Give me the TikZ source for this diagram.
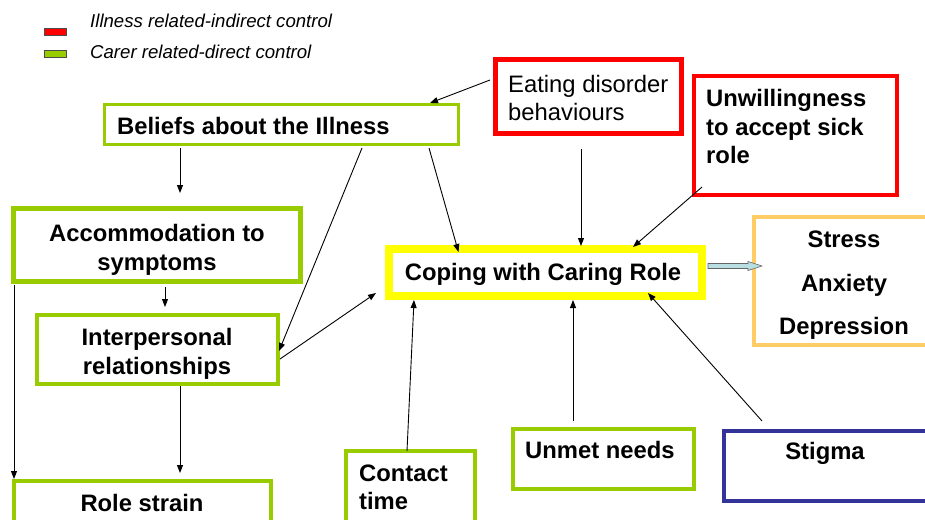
\documentclass[tikz,border=0pt]{standalone}
\usepackage{fontspec}
\setmainfont{Liberation Sans}
\usetikzlibrary{arrows.meta}
\definecolor{illred}{HTML}{FF0000}
\definecolor{carergreen}{HTML}{99CC00}
\definecolor{copeyellow}{HTML}{FFFF00}
\definecolor{outcomeorange}{HTML}{FFCC66}
\definecolor{stigmablue}{HTML}{333399}
\definecolor{arrowfill}{HTML}{B8DEE2}
\begin{document}
\begin{tikzpicture}[x=1pt,y=-1pt,
  box/.style={draw, rectangle, inner sep=0pt, fill=white},
  txt/.style={inner sep=0pt, font=\fontsize{23.8}{28.5}\selectfont\bfseries},
  plain/.style={inner sep=0pt, font=\fontsize{23.8}{28.5}\selectfont},
  legendtxt/.style={inner sep=0pt, anchor=west, font=\fontsize{18.6}{22}\selectfont\itshape},
  swatch/.style={draw=black!70, line width=0.8pt},
  link/.style={draw=black, line width=0.9pt, -{Triangle[length=8pt,width=6pt]}},
  blockarrow/.style={draw=black!60, line width=0.6pt, fill=arrowfill}]
\useasboundingbox (0,0) rectangle (925,519);
\clip (0,0) rectangle (925,519);

% legend
\draw[swatch, fill=illred] (44,28) rectangle (66,35);
\draw[swatch, fill=carergreen] (44,50) rectangle (66,57);
\node[legendtxt] (legill) at (90,21) {Illness related-indirect control};
\node[legendtxt] (legcar) at (90,52) {Carer related-direct control};

% boxes
\node[box, draw=carergreen, line width=3pt, minimum width=354, minimum height=40] (beliefs) at (281.5,124.5) {};
\node[txt, anchor=west] (beliefs-t) at (117,126) {Beliefs about the Illness};

\node[box, draw=illred, line width=5pt, minimum width=186, minimum height=74] (eat) at (588.5,96.5) {};
\node[plain, anchor=west, align=left] (eat-t) at (508,98) {Eating disorder\\behaviours};

\node[box, draw=illred, line width=4pt, minimum width=203, minimum height=119] (unw) at (795.5,135.5) {};
\node[txt, anchor=west, align=left] (unw-t) at (706,126.5) {Unwillingness\\to accept sick\\role};

\node[box, draw=carergreen, line width=5pt, minimum width=287, minimum height=73] (acc) at (157,245) {};
\node[txt, align=center, font=\fontsize{23.8}{29}\selectfont\bfseries] (acc-t) at (157,250) {Accommodation to\\symptoms};

\node[box, draw=carergreen, line width=4pt, minimum width=241, minimum height=69] (inter) at (157.5,349.5) {};
\node[txt, align=center] (inter-t) at (157,354) {Interpersonal\\relationships};

\node[box, draw=carergreen, line width=4pt, minimum width=257, minimum height=60] (role) at (142.5,511) {};
\node[txt] (role-t) at (142,503) {Role strain};

\node[box, draw=carergreen, line width=4pt, minimum width=129, minimum height=84] (contact) at (410.5,493) {};
\node[txt, anchor=west, align=left] (contact-t) at (359,487.5) {Contact\\time};

\node[box, draw=carergreen, line width=4pt, minimum width=181, minimum height=60] (unmet) at (603.5,459) {};
\node[txt, anchor=west] (unmet-t) at (525,450) {Unmet needs};

\node[box, draw=stigmablue, line width=4pt, minimum width=211, minimum height=70] (stigma) at (829.5,466) {};
\node[txt] (stigma-t) at (825,453) {Stigma};

\node[box, draw=outcomeorange, line width=4pt, minimum width=181, minimum height=128] (stress) at (844.5,281) {};
\node[txt, align=center, font=\fontsize{23.8}{43.5}\selectfont\bfseries] (stress-t) at (844,285.5) {Stress\\Anxiety\\Depression};

\node[box, draw=copeyellow, line width=8pt, minimum width=313, minimum height=47] (coping) at (545.5,272.5) {};
\node[txt] (coping-t) at (543,274) {Coping with Caring Role};

% connectors
\draw[link] ([shift={(-3,-16.5)}]eat.west) -- ([shift={(148.5,0)}]beliefs.north);
\draw[link] ([shift={(-101.5,2)}]beliefs.south) -- ([shift={(23,-13)}]acc.north);
\draw[link] ([shift={(147.5,2)}]beliefs.south) -- ([shift={(-87,7)}]coping.north);
\draw[link] ([shift={(80.5,2)}]beliefs.south) -- ([shift={(-1,1.5)}]inter.east);
\draw[link] ([shift={(0,9.5)}]inter.east) -- ([shift={(-9,20.5)}]coping.west);
\draw[link] ([shift={(8,3)}]acc.south) -- ([shift={(7.5,-6)}]inter.north);
\draw[link] ([shift={(3,1)}]acc.south west) -- ([shift={(2,0)}]role.north west);
\draw[link] ([shift={(22.5,0)}]inter.south) -- ([shift={(37.5,-6)}]role.north);
\draw[link] ([shift={(-7.5,13)}]eat.south) -- ([shift={(35.5,1)}]coping.north);
\draw[link] ([shift={(10,-10)}]unw.south west) -- ([shift={(87.5,2)}]coping.north);
\draw[link] ([shift={(-3.5,2)}]contact.north) -- ([shift={(-131.5,0)}]coping.south);
\draw[link] ([shift={(-30.5,-6)}]unmet.north) -- ([shift={(27.5,0)}]coping.south);
\draw[link] ([shift={(40,-8)}]stigma.north west) -- ([shift={(102.5,-7)}]coping.south);

% outline arrow towards the outcomes box
\draw[blockarrow] ([shift={(2,-9)}]coping.east) -- ++(40,0) -- ++(0,-2) -- ++(14,4.5)
  -- ++(-14,4.5) -- ++(0,-2) -- ++(-40,0) -- cycle;
\end{tikzpicture}
\end{document}
